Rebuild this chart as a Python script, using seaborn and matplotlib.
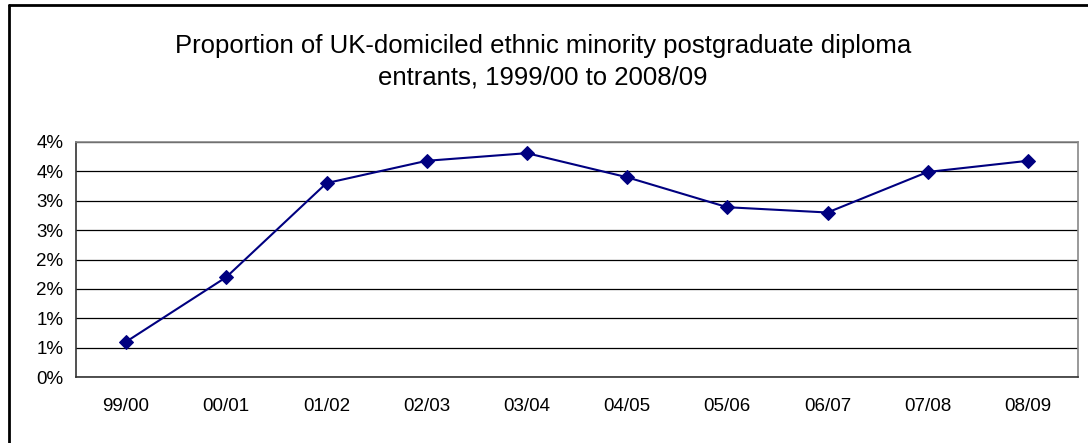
import math

import matplotlib
import matplotlib.pyplot as plt
from matplotlib.lines import Line2D
from matplotlib.ticker import FixedLocator, FuncFormatter
import pandas as pd
import seaborn as sns

matplotlib.use("Agg")

years = ["99/00", "00/01", "01/02", "02/03", "03/04",
         "04/05", "05/06", "06/07", "07/08", "08/09"]
share = [0.60, 1.70, 3.30, 3.68, 3.81, 3.40, 2.89, 2.80, 3.49, 3.68]  # percent
yticks = [0, 0.5, 1.0, 1.5, 2.0, 2.5, 3.0, 3.5, 4.0]

sns.set_style("white")
plt.rcParams['font.family'] = ['Liberation Sans', 'DejaVu Sans']
plt.rcParams['text.color'] = 'black'
plt.rcParams['xtick.color'] = 'black'
plt.rcParams['ytick.color'] = 'black'

df = pd.DataFrame({"year": years, "share": share})

fig = plt.figure(figsize=(10.88, 4.43), dpi=100)
ax = fig.add_axes([76 / 1088, 1 - 377 / 443, 1002 / 1088, 235 / 443])

sns.lineplot(data=df, x="year", y="share", ax=ax, color="#000080",
             marker="D", markersize=7, markeredgecolor="#000080",
             linewidth=1.5, sort=False)

ax.set_xlim(-0.5, len(years) - 0.5)
ax.set_ylim(0, 4)
ax.yaxis.set_major_locator(FixedLocator(yticks))
# excel shows whole percents, rounded half up
ax.yaxis.set_major_formatter(FuncFormatter(lambda v, p: f"{int(math.floor(v + 0.5))}%"))
ax.grid(axis="y", color="black", linewidth=0.9)
ax.set_axisbelow(True)

# category ticks sit between the labels
ax.set_xticks(range(len(years)))
ax.set_xticklabels(years)
ax.set_xticks([i - 0.5 for i in range(len(years) + 1)], minor=True)
ax.tick_params(axis="x", which="major", length=0, labelsize=13.5, pad=15)
ax.tick_params(axis="x", which="minor", length=5, width=1, color="#444444", direction="out")
ax.tick_params(axis="y", length=5, width=1, color="#444444", direction="out",
               labelsize=13.5, pad=4, labelcolor="black")
ax.tick_params(axis="x", labelcolor="black")
ax.set_xlabel("")
ax.set_ylabel("")

for side in ["left", "bottom"]:
    ax.spines[side].set_color("#333333")
    ax.spines[side].set_linewidth(1.2)
for side in ["right", "top"]:
    ax.spines[side].set_color("#888888")
    ax.spines[side].set_linewidth(1.2)

fig.text(0.499, 1 - 62 / 443,
         "Proportion of UK-domiciled ethnic minority postgraduate diploma\nentrants, 1999/00 to 2008/09",
         ha="center", va="center", fontsize=18.5, linespacing=1.4, color="black")

# chart border (only top and left are visible in the crop)
fig.add_artist(Line2D([9 / 1088, 9 / 1088], [0, 1 - 5 / 443], color="black", linewidth=2))
fig.add_artist(Line2D([9 / 1088, 1], [1 - 5 / 443, 1 - 5 / 443], color="black", linewidth=2))

fig.savefig("out.png", dpi=100)
